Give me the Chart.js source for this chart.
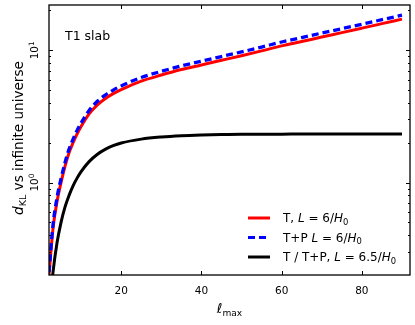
<!DOCTYPE html>
<html>
<head>
<meta charset="utf-8">
<script src="https://cdn.jsdelivr.net/npm/chart.js@4"></script>
<style>
  html, body { margin: 0; padding: 0; background: #fff; }
  canvas { display: block; }
</style>
</head>
<body>
<canvas id="chart" width="415" height="325"></canvas>
<script>
// Multipole cut-off values
const lmax = [2, 3, 4, 5, 6, 7, 8, 9, 10, 12, 14, 16, 18, 20, 25, 30, 35, 40, 45, 50, 55, 60, 65, 70, 75, 80, 85, 90];
// d_KL, temperature only, L = 6/H0
const dklT = [0.2, 0.45, 0.72, 1.0, 1.33, 1.68, 2.0, 2.33, 2.65, 3.3, 3.85, 4.3, 4.7, 5.05, 5.85, 6.5, 7.15, 7.75, 8.4, 9.1, 9.9, 10.8, 11.65, 12.6, 13.6, 14.7, 15.9, 17.2];
// d_KL, temperature + polarisation, L = 6/H0
const dklTP = [0.21, 0.48, 0.77, 1.07, 1.42, 1.79, 2.13, 2.48, 2.82, 3.51, 4.1, 4.58, 5.0, 5.38, 6.23, 6.93, 7.62, 8.27, 8.97, 9.72, 10.58, 11.55, 12.47, 13.5, 14.57, 15.75, 17.03, 18.42];
// d_KL, T / T+P, L = 6.5/H0
const dklWide = [0.1, 0.21, 0.35, 0.5, 0.655, 0.8, 0.945, 1.08, 1.21, 1.44, 1.63, 1.78, 1.9, 1.99, 2.13, 2.21, 2.26, 2.29, 2.31, 2.32, 2.32, 2.32, 2.33, 2.33, 2.33, 2.33, 2.33, 2.33];

const xTicks = [20, 40, 60, 80];
const yMajor = [1, 10];
const yMinor = [0.3, 0.4, 0.5, 0.6, 0.7, 0.8, 0.9, 2, 3, 4, 5, 6, 7, 8, 9, 20];

const FONT = '"DejaVu Sans", sans-serif';

// Draw a list of text runs (for italic / sub / superscripts)
const runFont = (r, size) => (r.italic ? "italic " : "") + (size * (r.scale || 1)) + "px " + FONT;
const drawRuns = (ctx, runs, size, x, y, align) => {
    let w = 0;
    runs.forEach((r) => {
        ctx.font = runFont(r, size);
        r.w = ctx.measureText(r.t).width;
        w += r.w;
    });
    let cx = align === "center" ? x - w / 2 : x;
    runs.forEach((r) => {
        ctx.font = runFont(r, size);
        ctx.fillText(r.t, cx, y + (r.dy || 0) * size);
        cx += r.w;
    });
};
const SUB = { scale: 0.7, dy: 0.22 };
const SUP = { scale: 0.7, dy: -0.42 };

const toPoints = (ys) => lmax.map((l, i) => ({ x: l, y: ys[i] }));

const decor = {
    id: "decor",
    afterDatasetsDraw(chart) {
        const ctx = chart.ctx;
        const a = chart.chartArea;
        const xs = chart.scales.x;
        const ys = chart.scales.y;
        ctx.save();
        ctx.strokeStyle = "#000";
        ctx.fillStyle = "#000";

        // inward ticks on all four sides
        ctx.lineWidth = 1;
        ctx.beginPath();
        xTicks.forEach((v) => {
            const px = Math.round(xs.getPixelForValue(v)) + 0.5;
            ctx.moveTo(px, a.bottom); ctx.lineTo(px, a.bottom - 4);
            ctx.moveTo(px, a.top); ctx.lineTo(px, a.top + 4);
        });
        yMajor.forEach((v) => {
            const py = Math.round(ys.getPixelForValue(v)) + 0.5;
            ctx.moveTo(a.left, py); ctx.lineTo(a.left + 4, py);
            ctx.moveTo(a.right, py); ctx.lineTo(a.right - 4, py);
        });
        yMinor.forEach((v) => {
            const py = Math.round(ys.getPixelForValue(v)) + 0.5;
            ctx.moveTo(a.left, py); ctx.lineTo(a.left + 2, py);
            ctx.moveTo(a.right, py); ctx.lineTo(a.right - 2, py);
        });
        ctx.stroke();

        // frame
        ctx.lineWidth = 1.3;
        ctx.strokeRect(a.left, a.top, a.right - a.left, a.bottom - a.top);

        // x tick labels
        ctx.textBaseline = "alphabetic";
        xTicks.forEach((v) => {
            drawRuns(ctx, [{ t: String(v) }], 10.5, xs.getPixelForValue(v), a.bottom + 19, "center");
        });

        // y tick labels, rotated like the original
        yMajor.forEach((v) => {
            const py = ys.getPixelForValue(v);
            ctx.save();
            ctx.translate(a.left - 11, py);
            ctx.rotate(-Math.PI / 2);
            drawRuns(ctx, [{ t: "10" }, { t: String(Math.round(Math.log10(v))), ...SUP }], 10.5, 0, 0, "center");
            ctx.restore();
        });

        // axis titles
        const cxm = (a.left + a.right) / 2;
        drawRuns(ctx, [{ t: "\u2113", scale: 1.05 }, { t: "max", ...SUB }], 13, cxm, a.bottom + 38, "center");

        ctx.save();
        ctx.translate(23, (a.top + a.bottom) / 2 - 2);
        ctx.rotate(-Math.PI / 2);
        drawRuns(ctx, [
            { t: "d", italic: true },
            { t: "KL", ...SUB },
            { t: " vs infinite universe" }
        ], 13.6, 0, 0, "center");
        ctx.restore();

        // annotation
        drawRuns(ctx, [{ t: "T1 slab" }], 12.5, a.left + 16, a.top + 35, "left");

        // legend
        const rows = [
            { color: "#ff0000", dash: [], runs: [{ t: "T, " }] },
            { color: "#0000ff", dash: [7, 4], runs: [{ t: "T+P " }] },
            { color: "#000000", dash: [], runs: [{ t: "T / T+P, " }] }
        ];
        const tails = ["6", "6", "6.5"];
        rows.forEach((r, i) => {
            const y = 218 + i * 19.5;
            ctx.save();
            ctx.strokeStyle = r.color;
            ctx.lineWidth = 3;
            ctx.setLineDash(r.dash);
            ctx.beginPath();
            ctx.moveTo(248, y);
            ctx.lineTo(270, y);
            ctx.stroke();
            ctx.restore();
            drawRuns(ctx, r.runs.concat([
                { t: "L", italic: true },
                { t: " = " + tails[i] + "/" },
                { t: "H", italic: true },
                { t: "0", ...SUB }
            ]), 12, 283, y + 4, "left");
        });

        ctx.restore();
    }
};

new Chart(document.getElementById("chart"), {
    type: "line",
    data: {
        datasets: [
            { label: "T, L = 6/H0", data: toPoints(dklT), borderColor: "#ff0000", borderWidth: 3, order: 3 },
            { label: "T+P L = 6/H0", data: toPoints(dklTP), borderColor: "#0000ff", borderWidth: 3.3, borderDash: [7, 4], order: 2 },
            { label: "T / T+P, L = 6.5/H0", data: toPoints(dklWide), borderColor: "#000000", borderWidth: 3, order: 1 }
        ]
    },
    options: {
        responsive: false,
        animation: false,
        devicePixelRatio: 1,
        layout: { padding: { left: 49, right: 5, top: 5, bottom: 50 } },
        elements: {
            point: { radius: 0 },
            line: { cubicInterpolationMode: "monotone", fill: false }
        },
        datasets: { line: { clip: 0 } },
        plugins: { legend: { display: false }, tooltip: { enabled: false } },
        scales: {
            x: { type: "linear", min: 2, max: 92, display: false },
            y: { type: "logarithmic", min: 0.2, max: 22, display: false }
        }
    },
    plugins: [decor]
});
</script>
</body>
</html>
